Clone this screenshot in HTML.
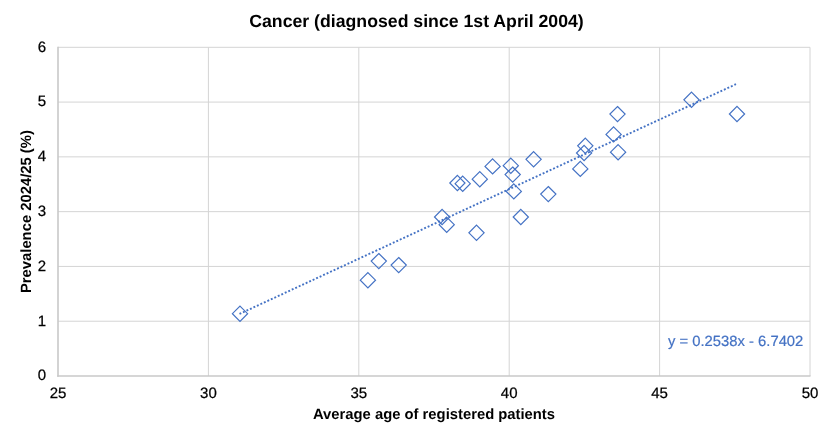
<!DOCTYPE html><html><head><meta charset="utf-8"><style>html,body{margin:0;padding:0;background:#fff;}svg{display:block;}text{font-family:"Liberation Sans",sans-serif;text-rendering:geometricPrecision;}</style></head><body>
<div style="will-change:transform;width:833px;height:439px">
<svg width="833" height="439" viewBox="0 0 833 439">
<rect width="833" height="439" fill="#fff"/>
<g stroke="#d4d4d4" stroke-width="1" fill="none"><line x1="208.40" y1="47.30" x2="208.40" y2="376.00"/><line x1="358.80" y1="47.30" x2="358.80" y2="376.00"/><line x1="509.20" y1="47.30" x2="509.20" y2="376.00"/><line x1="659.60" y1="47.30" x2="659.60" y2="376.00"/><line x1="810.00" y1="47.30" x2="810.00" y2="376.00"/><line x1="58.00" y1="321.22" x2="810.00" y2="321.22"/><line x1="58.00" y1="266.43" x2="810.00" y2="266.43"/><line x1="58.00" y1="211.65" x2="810.00" y2="211.65"/><line x1="58.00" y1="156.87" x2="810.00" y2="156.87"/><line x1="58.00" y1="102.08" x2="810.00" y2="102.08"/><line x1="58.00" y1="47.30" x2="810.00" y2="47.30"/></g>
<g stroke="#c8c8c8" stroke-width="1.6" fill="none"><line x1="58.0" y1="46.80" x2="58.0" y2="376.8"/><line x1="57.2" y1="376.0" x2="810.50" y2="376.0"/></g>
<line x1="239.5" y1="313.92" x2="736.0" y2="84.19" stroke="#4472c4" stroke-width="1.9" stroke-dasharray="1.92 1.92"/>
<g fill="none" stroke="#4472c4" stroke-width="1.2" stroke-linejoin="miter"><path d="M240.0 306.1L247.6 313.7L240.0 321.3L232.4 313.7Z"/><path d="M367.9 272.6L375.5 280.2L367.9 287.8L360.3 280.2Z"/><path d="M378.8 253.5L386.4 261.1L378.8 268.7L371.2 261.1Z"/><path d="M398.7 257.5L406.3 265.1L398.7 272.7L391.1 265.1Z"/><path d="M442.1 209.4L449.7 217.0L442.1 224.6L434.5 217.0Z"/><path d="M446.7 217.1L454.3 224.7L446.7 232.3L439.1 224.7Z"/><path d="M457.4 175.4L465.0 183.0L457.4 190.6L449.8 183.0Z"/><path d="M462.7 176.1L470.3 183.7L462.7 191.3L455.1 183.7Z"/><path d="M476.5 225.2L484.1 232.8L476.5 240.4L468.9 232.8Z"/><path d="M479.8 171.6L487.4 179.2L479.8 186.8L472.2 179.2Z"/><path d="M492.6 158.8L500.2 166.4L492.6 174.0L485.0 166.4Z"/><path d="M510.8 158.1L518.4 165.7L510.8 173.3L503.2 165.7Z"/><path d="M512.7 167.0L520.3 174.6L512.7 182.2L505.1 174.6Z"/><path d="M513.8 183.8L521.4 191.4L513.8 199.0L506.2 191.4Z"/><path d="M520.8 209.4L528.4 217.0L520.8 224.6L513.2 217.0Z"/><path d="M533.6 151.7L541.2 159.3L533.6 166.9L526.0 159.3Z"/><path d="M548.3 186.5L555.9 194.1L548.3 201.7L540.7 194.1Z"/><path d="M580.3 161.3L587.9 168.9L580.3 176.5L572.7 168.9Z"/><path d="M584.1 145.4L591.7 153.0L584.1 160.6L576.5 153.0Z"/><path d="M585.3 138.2L592.9 145.8L585.3 153.4L577.7 145.8Z"/><path d="M613.6 126.8L621.2 134.4L613.6 142.0L606.0 134.4Z"/><path d="M617.5 106.5L625.1 114.1L617.5 121.7L609.9 114.1Z"/><path d="M618.1 144.6L625.7 152.2L618.1 159.8L610.5 152.2Z"/><path d="M691.5 92.2L699.1 99.8L691.5 107.4L683.9 99.8Z"/><path d="M737.0 106.4L744.6 114.0L737.0 121.6L729.4 114.0Z"/></g>
<g font-size="15" fill="#000" stroke="#000" stroke-width="0.25"><text x="46.2" y="380.40" text-anchor="end">0</text><text x="46.2" y="325.62" text-anchor="end">1</text><text x="46.2" y="270.83" text-anchor="end">2</text><text x="46.2" y="216.05" text-anchor="end">3</text><text x="46.2" y="161.27" text-anchor="end">4</text><text x="46.2" y="106.48" text-anchor="end">5</text><text x="46.2" y="51.70" text-anchor="end">6</text><text x="58.00" y="398.2" text-anchor="middle">25</text><text x="208.40" y="398.2" text-anchor="middle">30</text><text x="358.80" y="398.2" text-anchor="middle">35</text><text x="509.20" y="398.2" text-anchor="middle">40</text><text x="659.60" y="398.2" text-anchor="middle">45</text><text x="810.00" y="398.2" text-anchor="middle">50</text></g>
<text x="416.5" y="26.7" text-anchor="middle" font-size="17.7" font-weight="bold" fill="#000">Cancer (diagnosed since 1st April 2004)</text>
<text x="434" y="418.7" text-anchor="middle" font-size="14.8" font-weight="bold" fill="#000">Average age of registered patients</text>
<text transform="translate(30.9,211.6) rotate(-90)" x="0" y="0" text-anchor="middle" font-size="14.8" font-weight="bold" fill="#000">Prevalence 2024/25 (%)</text>
<text x="668" y="346.4" font-size="14.8" fill="#4472c4" stroke="#4472c4" stroke-width="0.2">y = 0.2538x - 6.7402</text>
</svg></div></body></html>
